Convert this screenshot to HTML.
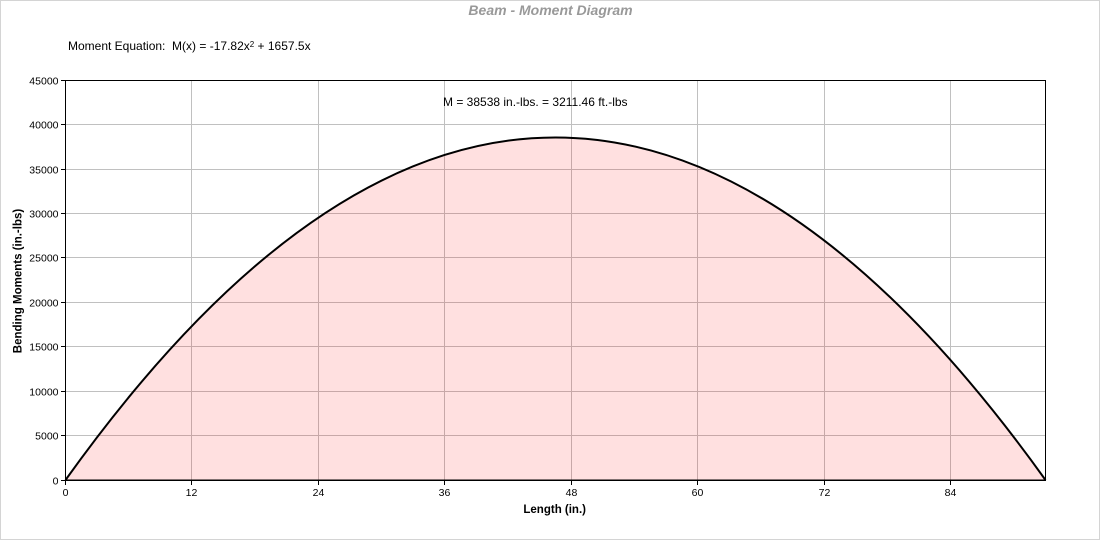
<!DOCTYPE html>
<html>
<head>
<meta charset="utf-8">
<style>
html,body{margin:0;padding:0;background:#fff;}
svg{display:block;font-family:"Liberation Sans",Arial,sans-serif;}
</style>
</head>
<body>
<svg width="1100" height="540" viewBox="0 0 1100 540" xmlns="http://www.w3.org/2000/svg">
  <rect x="0.5" y="0.5" width="1099" height="539" fill="#fff" stroke="#d4d4d4" stroke-width="1"/>
  <!-- title -->
  <text x="550.5" y="15" text-anchor="middle" font-size="14" font-weight="bold" font-style="italic" fill="#999">Beam - Moment Diagram</text>
  <!-- equation -->
  <text x="68" y="50" font-size="12" fill="#000" xml:space="preserve">Moment Equation:  M(x) = -17.82x<tspan font-size="8" dy="-3">2</tspan><tspan dy="3"> + 1657.5x</tspan></text>

  <!-- gridlines -->
  <g stroke="#c0c0c0" stroke-width="1" shape-rendering="crispEdges">
    <line x1="65.5" y1="435.5" x2="1045.5" y2="435.5"/>
    <line x1="65.5" y1="391.5" x2="1045.5" y2="391.5"/>
    <line x1="65.5" y1="346.5" x2="1045.5" y2="346.5"/>
    <line x1="65.5" y1="302.5" x2="1045.5" y2="302.5"/>
    <line x1="65.5" y1="257.5" x2="1045.5" y2="257.5"/>
    <line x1="65.5" y1="213.5" x2="1045.5" y2="213.5"/>
    <line x1="65.5" y1="169.5" x2="1045.5" y2="169.5"/>
    <line x1="65.5" y1="124.5" x2="1045.5" y2="124.5"/>
    <line x1="191.5" y1="80" x2="191.5" y2="480"/>
    <line x1="318.5" y1="80" x2="318.5" y2="480"/>
    <line x1="444.5" y1="80" x2="444.5" y2="480"/>
    <line x1="571.5" y1="80" x2="571.5" y2="480"/>
    <line x1="697.5" y1="80" x2="697.5" y2="480"/>
    <line x1="824.5" y1="80" x2="824.5" y2="480"/>
    <line x1="950.5" y1="80" x2="950.5" y2="480"/>
  </g>

  <!-- fill -->
  <path d="M65.5,480 Q555.3,-205.1 1045.5,480 Z" fill="rgba(255,0,0,0.12)"/>
  <!-- curve -->
  <path d="M65.5,480 Q555.3,-205.1 1045.5,480" fill="none" stroke="#000" stroke-width="2"/>

  <!-- M label -->
  <text x="443" y="106" font-size="12" fill="#000">M = 38538 in.-lbs. = 3211.46 ft.-lbs</text>

  <!-- axes frame -->
  <g stroke="#000" stroke-width="1" shape-rendering="crispEdges" fill="none">
    <rect x="65.5" y="80.5" width="980" height="399.5"/>
    <line x1="65" y1="480.5" x2="1046" y2="480.5"/>
    <!-- y ticks -->
    <line x1="61" y1="80.5" x2="65" y2="80.5"/>
    <line x1="61" y1="124.5" x2="65" y2="124.5"/>
    <line x1="61" y1="169.5" x2="65" y2="169.5"/>
    <line x1="61" y1="213.5" x2="65" y2="213.5"/>
    <line x1="61" y1="257.5" x2="65" y2="257.5"/>
    <line x1="61" y1="302.5" x2="65" y2="302.5"/>
    <line x1="61" y1="346.5" x2="65" y2="346.5"/>
    <line x1="61" y1="391.5" x2="65" y2="391.5"/>
    <line x1="61" y1="435.5" x2="65" y2="435.5"/>
    <line x1="61" y1="480.5" x2="65" y2="480.5"/>
    <!-- x ticks -->
    <line x1="65.5" y1="480" x2="65.5" y2="485"/>
    <line x1="191.5" y1="480" x2="191.5" y2="485"/>
    <line x1="318.5" y1="480" x2="318.5" y2="485"/>
    <line x1="444.5" y1="480" x2="444.5" y2="485"/>
    <line x1="571.5" y1="480" x2="571.5" y2="485"/>
    <line x1="697.5" y1="480" x2="697.5" y2="485"/>
    <line x1="824.5" y1="480" x2="824.5" y2="485"/>
    <line x1="950.5" y1="480" x2="950.5" y2="485"/>
  </g>

  <!-- y tick labels -->
  <g font-size="10.5" fill="#000" text-anchor="end">
    <text x="58.5" y="84.5">45000</text>
    <text x="58.5" y="128.5">40000</text>
    <text x="58.5" y="173.5">35000</text>
    <text x="58.5" y="217.5">30000</text>
    <text x="58.5" y="261.5">25000</text>
    <text x="58.5" y="306.5">20000</text>
    <text x="58.5" y="350.5">15000</text>
    <text x="58.5" y="395.5">10000</text>
    <text x="58.5" y="439.5">5000</text>
    <text x="58.5" y="484.5">0</text>
  </g>
  <!-- x tick labels -->
  <g font-size="10.5" fill="#000" text-anchor="middle">
    <text x="65.5" y="496">0</text>
    <text x="191.5" y="496">12</text>
    <text x="318.5" y="496">24</text>
    <text x="444.5" y="496">36</text>
    <text x="571.5" y="496">48</text>
    <text x="697.5" y="496">60</text>
    <text x="824.5" y="496">72</text>
    <text x="950.5" y="496">84</text>
  </g>

  <!-- axis titles -->
  <text x="554.7" y="513" text-anchor="middle" font-size="11.5" font-weight="bold" fill="#000">Length (in.)</text>
  <text transform="translate(21.5,281) rotate(-90)" text-anchor="middle" font-size="11.5" font-weight="bold" fill="#000">Bending Moments (in.-lbs)</text>
</svg>
</body>
</html>
